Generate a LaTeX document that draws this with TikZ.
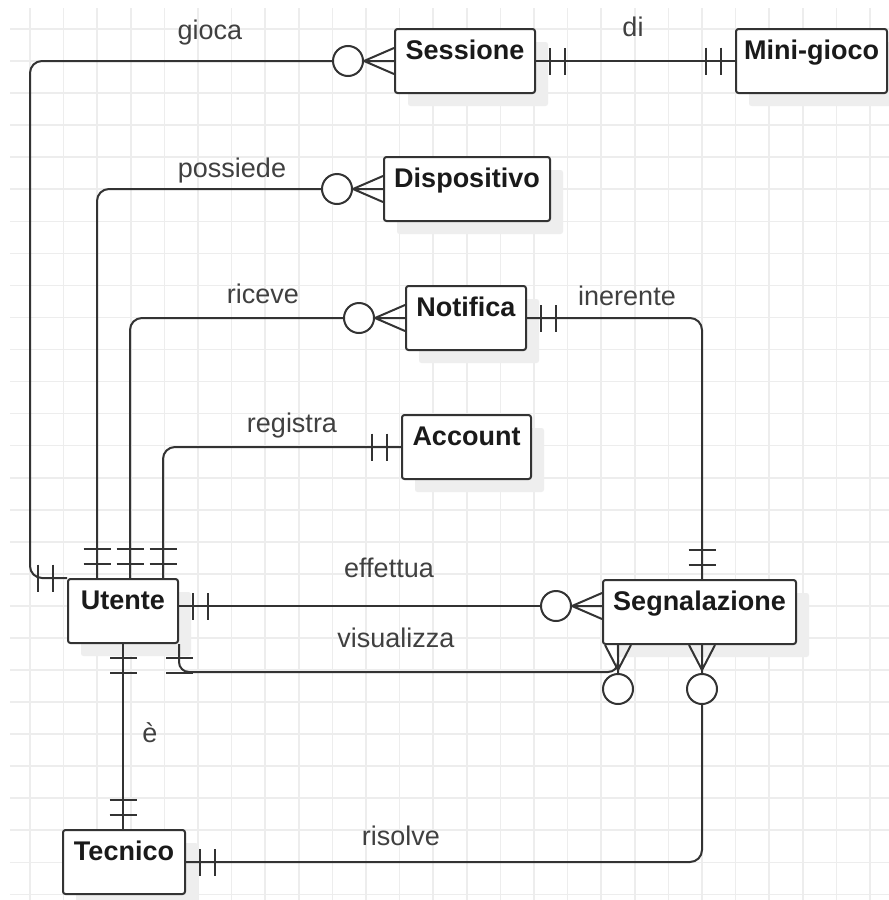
\documentclass[tikz,border=0pt]{standalone}
\usepackage{fontspec}
\setmainfont{Liberation Sans}
\usetikzlibrary{calc,shadows}
\definecolor{gridc}{RGB}{237,237,237}
\definecolor{linec}{RGB}{51,51,51}
\definecolor{shadc}{RGB}{238,238,238}
\definecolor{labc}{RGB}{64,64,64}
\definecolor{entc}{RGB}{26,26,26}
% #1 point, #2 dx, #3 dy (away from entity), #4 vertex distance, #5 circle-centre distance
\newcommand\ERmany[5]{%
  \draw[ermark] ($(#1)+({(#4)*(#2)},{(#4)*(#3)})$) -- ($(#1)+({13*(#3)},{13*(#2)})$)
    ($(#1)+({(#4)*(#2)},{(#4)*(#3)})$) -- (#1)
    ($(#1)+({(#4)*(#2)},{(#4)*(#3)})$) -- ($(#1)+({-13*(#3)},{-13*(#2)})$)
    ($(#1)+({(#4)*(#2)},{(#4)*(#3)})$) -- ($(#1)+({((#5)-15)*(#2)},{((#5)-15)*(#3)})$);
  \draw[ermark,fill=white] ($(#1)+({(#5)*(#2)},{(#5)*(#3)})$) circle[radius=15pt];
}
% two bars: #1 point, #2 dx, #3 dy
\newcommand\ERone[3]{%
  \draw[ermark] ($(#1)+({14*(#2)+13.5*(#3)},{14*(#3)+13.5*(#2)})$) -- ($(#1)+({14*(#2)-13.5*(#3)},{14*(#3)-13.5*(#2)})$)
    ($(#1)+({29*(#2)+13.5*(#3)},{29*(#3)+13.5*(#2)})$) -- ($(#1)+({29*(#2)-13.5*(#3)},{29*(#3)-13.5*(#2)})$);
}
\begin{document}
\begin{tikzpicture}[x=1pt,y=-1pt,
  entity/.style={draw=linec, line width=2pt, fill=white, rounded corners=2.5pt,
    anchor=north west, minimum height=64pt, inner ysep=0pt, inner xsep=0pt,
    text height=30pt, text depth=34pt, font=\fontsize{27}{27}\selectfont\bfseries,
    text=entc, general shadow={fill=shadc, shadow xshift=13pt, shadow yshift=-13pt}},
  conn/.style={draw=linec, line width=2pt, rounded corners=12pt},
  ermark/.style={draw=linec, line width=2pt},
  rel/.style={anchor=base, font=\fontsize{27}{27}\selectfont, text=labc, inner sep=0pt},
  gridline/.style={draw=gridc, line width=1.6pt}]
\useasboundingbox (0,0) rectangle (889,900);
\fill[white] (0,0) rectangle (889,900);
% grid
\foreach \i in {0,...,25} \draw[gridline] ({30+33.6*\i},8) -- ({30+33.6*\i},900);
\foreach \j in {0,...,27} \draw[gridline] (10,{29+32.05*\j}) -- (889,{29+32.05*\j});

% entities
\node[entity, minimum width=140pt] (Sessione) at (394,28) {Sessione};
\node[entity, minimum width=151pt] (Mini) at (735,28) {Mini-gioco};
\node[entity, minimum width=166pt] (Dispositivo) at (383,156) {Dispositivo};
\node[entity, minimum width=120pt] (Notifica) at (405,285) {Notifica};
\node[entity, minimum width=129pt] (Account) at (401,414) {Account};
\node[entity, minimum width=110pt] (Utente) at (67,578) {Utente};
\node[entity, minimum width=193pt] (Segnalazione) at (602,579) {Segnalazione};
\node[entity, minimum width=122pt] (Tecnico) at (62,829) {Tecnico};

% attachment points
\coordinate (uP) at ($(Utente.north west)+(30,0)$);
\coordinate (uR) at ($(Utente.north west)+(63,0)$);
\coordinate (uA) at ($(Utente.north west)+(96,0)$);
\coordinate (uE) at ($(Utente.east)+(0,-5)$);
\coordinate (sgW) at ($(Segnalazione.west)+(0,-6)$);
\coordinate (sgN) at ($(Segnalazione.north west)+(100,0)$);
\coordinate (sgV) at ($(Segnalazione.south west)+(16,0)$);
\coordinate (sgR) at ($(Segnalazione.south west)+(100,0)$);
\coordinate (tT) at (Utente.south |- Tecnico.north);

% gioca
\draw[conn] (Utente.north west) -- (30,578) |- ($(Sessione.west)+(-61,0)$);
\ERone{Utente.north west}{-1}{0}
\ERmany{Sessione.west}{-1}{0}{30}{46}
% di
\draw[conn] (Sessione.east) -- (Mini.west);
\ERone{Sessione.east}{1}{0}
\ERone{Mini.west}{-1}{0}
% possiede
\draw[conn] (uP) |- ($(Dispositivo.west)+(-61,0)$);
\ERone{uP}{0}{-1}
\ERmany{Dispositivo.west}{-1}{0}{30}{46}
% riceve
\draw[conn] (uR) |- ($(Notifica.west)+(-61,0)$);
\ERone{uR}{0}{-1}
\ERmany{Notifica.west}{-1}{0}{30}{46}
% registra
\draw[conn] (uA) |- (Account.west);
\ERone{uA}{0}{-1}
\ERone{Account.west}{-1}{0}
% inerente
\draw[conn] (Notifica.east) -| (sgN);
\ERone{Notifica.east}{1}{0}
\ERone{sgN}{0}{-1}
% effettua
\draw[conn] (uE) -- ($(sgW)+(-61,0)$);
\ERone{uE}{1}{0}
\ERmany{sgW}{-1}{0}{30}{46}
% visualizza
\draw[conn, rounded corners=10pt] (Utente.south east) |- ($(sgV)+(0,27)$) -- ($(sgV)+(0,15)$);
\ERone{Utente.south east}{0}{1}
\ERmany{sgV}{0}{1}{25}{44}
% e
\draw[conn] (Utente.south) -- (tT);
\ERone{Utente.south}{0}{1}
\ERone{tT}{0}{-1}
% risolve
\draw[conn] (Tecnico.east) -| ($(sgR)+(0,59)$);
\ERone{Tecnico.east}{1}{0}
\ERmany{sgR}{0}{1}{25}{44}

% relationship labels
\node[rel] (lgioca) at (210,39) {gioca};
\node[rel] (ldi) at (633,36) {di};
\node[rel] (lposs) at (232,177) {possiede};
\node[rel] (lric) at (263,303) {riceve};
\node[rel] (liner) at (627,305) {inerente};
\node[rel] (lreg) at (292,432) {registra};
\node[rel] (leff) at (389,577) {effettua};
\node[rel] (lvis) at (396,647) {visualizza};
\node[rel] (le) at (150,742) {è};
\node[rel] (lris) at (401,845) {risolve};
\end{tikzpicture}
\end{document}
